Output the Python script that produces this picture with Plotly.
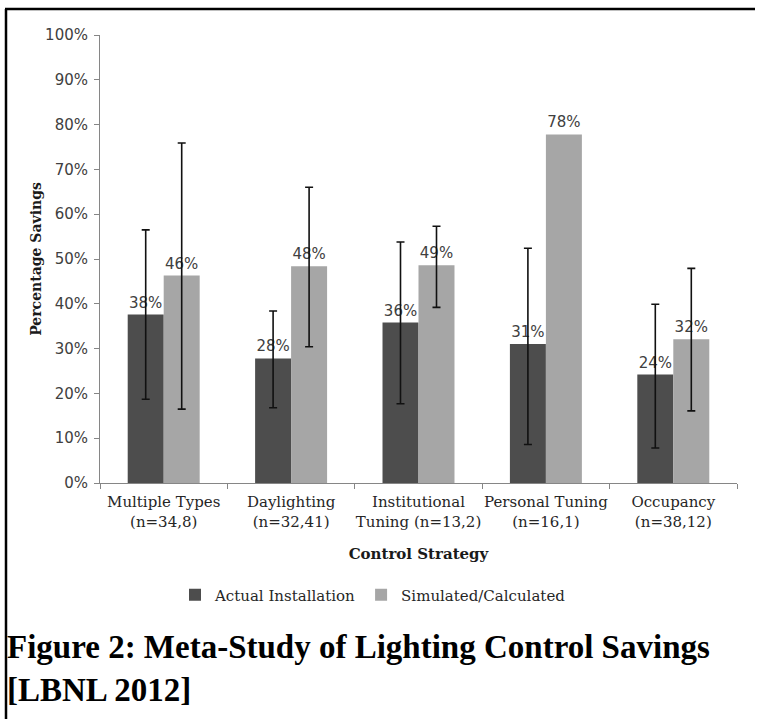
import numpy as np
import plotly.graph_objects as go

categories = ["Multiple Types<br>(n=34,8)", "Daylighting<br>(n=32,41)",
              "Institutional<br>Tuning (n=13,2)", "Personal Tuning<br>(n=16,1)",
              "Occupancy<br>(n=38,12)"]
actual = np.array([37.6, 27.8, 35.8, 31.0, 24.2])
actual_hi = np.array([56.5, 38.4, 53.8, 52.4, 39.9])
actual_lo = np.array([18.7, 16.8, 17.7, 8.6, 7.8])
simulated = np.array([46.3, 48.4, 48.6, 77.8, 32.1])
simulated_hi = np.array([75.9, 66.0, 57.3, np.nan, 47.9])
simulated_lo = np.array([16.5, 30.4, 39.2, np.nan, 16.1])
y_ticks = list(range(0, 101, 10))
y_tick_text = [f"{v}%" for v in y_ticks]

W, H = 759, 721
ML, MR, MT, MB = 100, 22, 35, 238
PW, PH = W - ML - MR, H - MT - MB

def px_x(p):
    return (p - ML) / PW

def px_y(p):
    return (H - MB - p) / PH

label_font = dict(family="DejaVu Sans", size=15, color="#404040")

fig = go.Figure()
fig.add_trace(go.Bar(
    x=categories, y=actual, name="Actual Installation",
    marker=dict(color="#4d4d4d", line=dict(width=0)),
    error_y=dict(type="data", symmetric=False, array=actual_hi - actual,
                 arrayminus=actual - actual_lo, color="#111111", thickness=1.6, width=4),
    texttemplate="%{y:.0f}%", textposition="outside", constraintext="none",
    cliponaxis=False, textfont=label_font,
))
fig.add_trace(go.Bar(
    x=categories, y=simulated, name="Simulated/Calculated",
    marker=dict(color="#a6a6a6", line=dict(width=0)),
    error_y=dict(type="data", symmetric=False, array=simulated_hi - simulated,
                 arrayminus=simulated - simulated_lo, color="#111111", thickness=1.6, width=4),
    texttemplate="%{y:.0f}%", textposition="outside", constraintext="none",
    cliponaxis=False, textfont=label_font,
))

fig.update_layout(
    width=W, height=H,
    margin=dict(l=ML, r=MR, t=MT, b=MB, autoexpand=False),
    paper_bgcolor="white", plot_bgcolor="white",
    barmode="group", bargap=0.435, bargroupgap=0,
    showlegend=True,
    legend=dict(orientation="h", x=px_x(175), xanchor="left", y=px_y(595), yanchor="middle",
                font=dict(family="DejaVu Serif", size=15, color="#262626"),
                itemwidth=30, bgcolor="rgba(0,0,0,0)"),
    title=dict(text="<b>Figure 2: Meta-Study of Lighting Control Savings<br>[LBNL 2012]</b>",
               font=dict(family="Liberation Serif", size=33, color="black"),
               xref="container", yref="container", x=7 / W, xanchor="left",
               y=1 - 658 / H, yanchor="top"),
    shapes=[
        dict(type="line", xref="paper", yref="paper", x0=px_x(5), x1=px_x(W - 4),
             y0=px_y(9), y1=px_y(9), line=dict(color="black", width=2.5)),
        dict(type="line", xref="paper", yref="paper", x0=px_x(6), x1=px_x(6),
             y0=px_y(9), y1=px_y(H - 2), line=dict(color="black", width=2.5)),
    ],
)
fig.update_xaxes(
    showline=True, linecolor="#868686", linewidth=1,
    ticks="outside", tickson="boundaries", ticklen=5, tickcolor="#868686",
    ticklabelstandoff=5, tickangle=0,
    tickfont=dict(family="DejaVu Serif", size=15, color="#262626"),
    title=dict(text="<b>Control Strategy</b>", standoff=18,
               font=dict(family="DejaVu Serif", size=15, color="#1a1a1a")),
    showgrid=False,
)
fig.update_yaxes(
    range=[0, 100], tickvals=y_ticks, ticktext=y_tick_text,
    showline=True, linecolor="#868686", linewidth=1,
    ticks="outside", ticklen=5, tickcolor="#868686", ticklabelstandoff=3,
    tickfont=dict(family="DejaVu Sans", size=15, color="#404040"),
    title=dict(text="<b>Percentage Savings</b>", standoff=0,
               font=dict(family="DejaVu Serif", size=14, color="#1a1a1a")),
    showgrid=False, zeroline=False,
)

fig.write_html(
    "out.html", config={"displayModeBar": False},
    post_script=("document.body.style.margin='0px';"
                 "document.body.style.overflow='hidden';"
                 "document.documentElement.style.overflow='hidden';"),
)
